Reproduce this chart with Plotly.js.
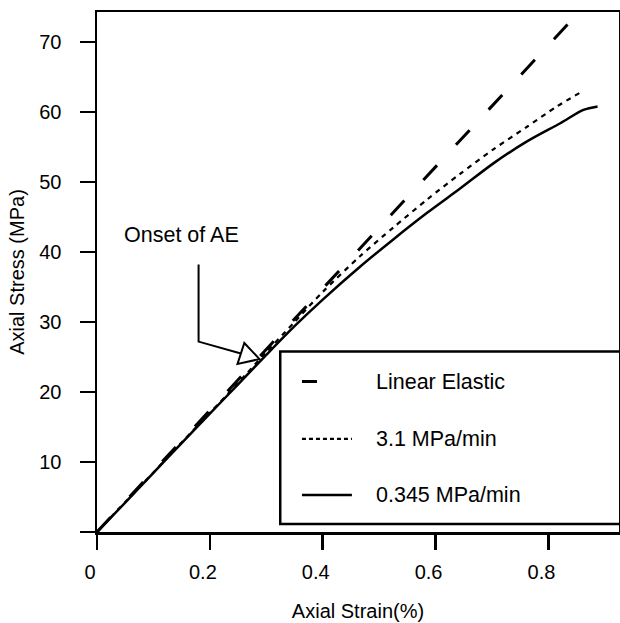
<!DOCTYPE html>
<html>
<head>
<meta charset="utf-8">
<script src="https://cdn.plot.ly/plotly-3.0.1.min.js"></script>
<style>html,body{margin:0;padding:0;background:#fff}#chart{width:620px;height:623px}</style>
</head>
<body>
<div id="chart"></div>
<script>
// Linear elastic reference line
const elasticStrain = [0, 0.835];
const elasticStress = [0, 72.6];

// 3.1 MPa/min loading rate
const fastStrain = [0, 0.05, 0.1, 0.15, 0.2, 0.25, 0.3, 0.35, 0.4, 0.466, 0.525, 0.585, 0.644, 0.703, 0.762, 0.815, 0.859];
const fastStress = [0, 4.3, 8.5, 12.8, 17.0, 21.3, 25.7, 30.0, 34.3, 39.4, 43.5, 47.5, 51.2, 54.7, 57.9, 60.8, 62.9];

// 0.345 MPa/min loading rate
const slowStrain = [0, 0.05, 0.1, 0.15, 0.2, 0.25, 0.3, 0.35, 0.4, 0.466, 0.525, 0.585, 0.644, 0.703, 0.762, 0.821, 0.862, 0.887];
const slowStress = [0, 4.2, 8.45, 12.7, 16.9, 21.1, 25.3, 29.4, 33.2, 37.9, 41.8, 45.6, 49.1, 52.7, 55.8, 58.4, 60.3, 60.8];

const xTickVals = [0, 0.2, 0.4, 0.6, 0.8];
const xTickText = ['0', '0.2', '0.4', '0.6', '0.8'];
const yTickVals = [0, 10, 20, 30, 40, 50, 60, 70];
const yTickText = ['', '10', '20', '30', '40', '50', '60', '70'];

const seriesNames = ['Linear Elastic', '3.1 MPa/min', '0.345 MPa/min'];
const annotationText = 'Onset of AE';

const FONT = 'Liberation Sans, Arial, Helvetica, sans-serif';

const traces = [
  {x: elasticStrain, y: elasticStress, mode: 'lines', name: seriesNames[0],
   line: {color: '#000', width: 3, dash: '20px,28px'}},
  {x: fastStrain, y: fastStress, mode: 'lines', name: seriesNames[1],
   line: {color: '#000', width: 2.2, dash: '5px,5px', shape: 'spline', smoothing: 0.8}},
  {x: slowStrain, y: slowStress, mode: 'lines', name: seriesNames[2],
   line: {color: '#000', width: 2.5, shape: 'spline', smoothing: 0.8}}
];

// legend drawn by hand (box, samples, labels)
const legBox = {x0: 0.3247, x1: 1.2, y0: 1.14, y1: 25.8};
const legSampleX = [0.3632, 0.4517];
const legRowsY = [21.5, 13.3, 5.3];
const legTextX = 0.4903;

const shapes = [
  {type: 'rect', xref: 'x', yref: 'y', x0: legBox.x0, x1: legBox.x1, y0: legBox.y0, y1: legBox.y1,
   line: {color: '#000', width: 2.5}, fillcolor: 'rgba(0,0,0,0)'},
  {type: 'line', xref: 'x', yref: 'y', x0: legSampleX[0], x1: 0.3898, y0: legRowsY[0], y1: legRowsY[0],
   line: {color: '#000', width: 3}},
  {type: 'line', xref: 'x', yref: 'y', x0: legSampleX[0], x1: legSampleX[1], y0: legRowsY[1], y1: legRowsY[1],
   line: {color: '#000', width: 2.2, dash: '4px,3px'}},
  {type: 'line', xref: 'x', yref: 'y', x0: legSampleX[0], x1: legSampleX[1], y0: legRowsY[2], y1: legRowsY[2],
   line: {color: '#000', width: 2.5}},
  // bent leader for "Onset of AE"
  {type: 'path', xref: 'x', yref: 'y', path: 'M0.180,38.2 L0.180,27.2 L0.255,25.5',
   line: {color: '#000', width: 2}},
  // open arrowhead
  {type: 'path', xref: 'x', yref: 'y', path: 'M0.261,27.0 L0.249,24.0 L0.288,24.7 Z',
   line: {color: '#000', width: 2}, fillcolor: '#fff'}
];

const annotations = [
  {xref: 'x', yref: 'y', x: 0.1506, y: 42.5, text: annotationText, showarrow: false,
   xanchor: 'center', yanchor: 'middle', font: {family: FONT, size: 21.5, color: '#000'}}
];
seriesNames.forEach((n, i) => {
  annotations.push({xref: 'x', yref: 'y', x: legTextX, y: legRowsY[i], text: n, showarrow: false,
    xanchor: 'left', yanchor: 'middle', font: {family: FONT, size: 21.5, color: '#000'}});
});

const layout = {
  width: 620, height: 623,
  margin: {l: 97, r: 1, t: 12, b: 91, pad: 0},
  paper_bgcolor: '#fff', plot_bgcolor: '#fff',
  showlegend: false,
  font: {family: FONT, size: 20, color: '#000'},
  xaxis: {
    range: [0, 0.925], autorange: false,
    tickvals: xTickVals, ticktext: xTickText,
    ticks: 'outside', ticklen: 15, tickwidth: 2.5, tickcolor: '#000',
    ticklabelshift: -7, ticklabelstandoff: 5,
    showline: true, linewidth: 2.5, linecolor: '#000', mirror: true,
    showgrid: false, zeroline: false,
    tickfont: {family: FONT, size: 20, color: '#000'},
    title: {text: 'Axial Strain(%)', font: {family: FONT, size: 20, color: '#000'}, standoff: 23}
  },
  yaxis: {
    range: [0, 74.29], autorange: false,
    tickvals: yTickVals, ticktext: yTickText,
    ticks: 'outside', ticklen: 15, tickwidth: 2.5, tickcolor: '#000',
    ticklabelstandoff: 14,
    showline: true, linewidth: 2.5, linecolor: '#000', mirror: true,
    showgrid: false, zeroline: false,
    tickfont: {family: FONT, size: 20, color: '#000'},
    title: {text: 'Axial Stress (MPa)', font: {family: FONT, size: 20, color: '#000'}, standoff: 10}
  },
  shapes: shapes,
  annotations: annotations
};

Plotly.newPlot('chart', traces, layout, {displayModeBar: false, staticPlot: true});
</script>
</body>
</html>
